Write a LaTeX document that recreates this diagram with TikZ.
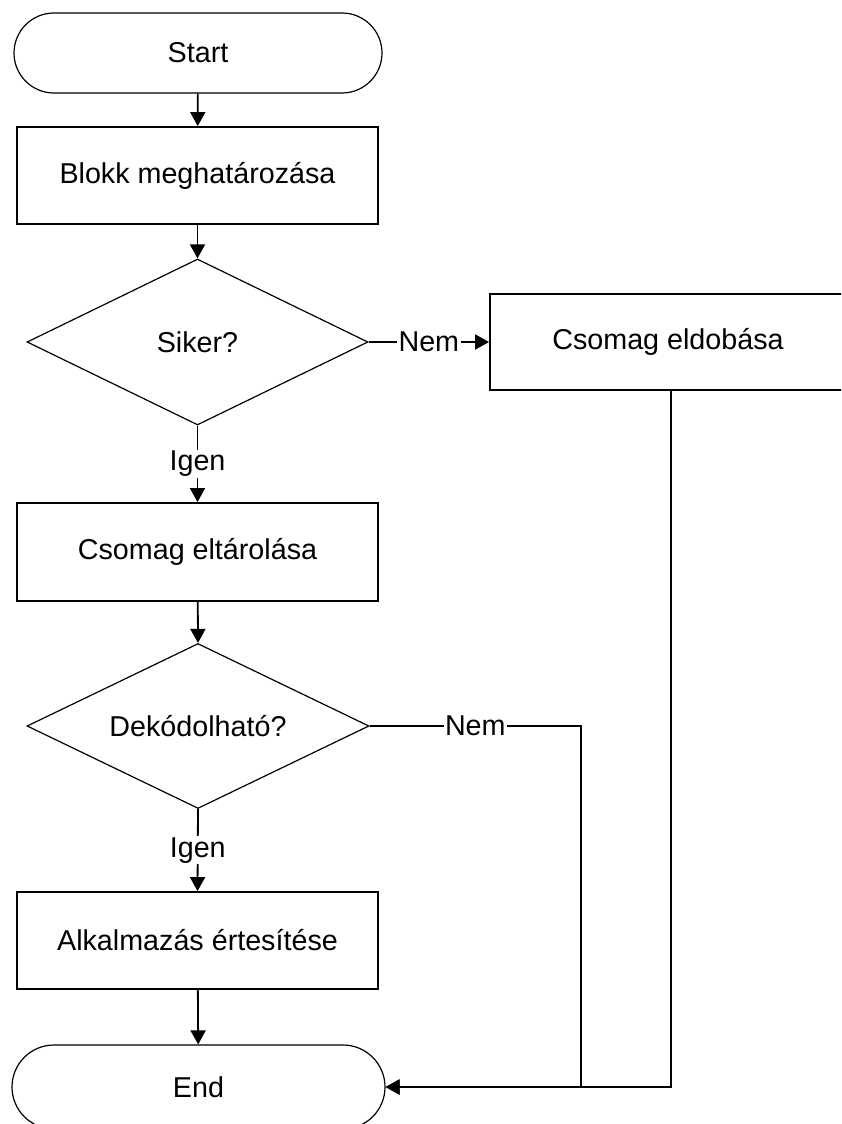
\documentclass[tikz,border=0pt]{standalone}
\usepackage{fontspec}
\setmainfont{Liberation Sans}
\usetikzlibrary{arrows.meta,shapes.geometric,shapes.misc}
\begin{document}
\begin{tikzpicture}[x=1pt,y=-1pt,
  every node/.style={font=\fontsize{28.7}{34}\selectfont, text=black},
  term/.style={draw, rounded rectangle, line width=1.2pt, inner sep=0pt},
  procbox/.style={draw, rectangle, line width=1.8pt, inner sep=0pt},
  decide/.style={draw, diamond, line width=1.2pt, inner sep=0pt},
  conn/.style={line width=1.8pt, -{Triangle[length=14pt,width=15pt]}},
  lbl/.style={fill=white, inner sep=1.5pt}
]
\useasboundingbox (0,0) rectangle (841,1124);
\clip (0,0) rectangle (841,1124);
\fill[white] (0,0) rectangle (841,1124);

\node[term, minimum width=368pt, minimum height=80pt] (start) at (198,53) {Start};
\node[procbox, minimum width=361pt, minimum height=97pt] (blokk) at (197.5,175.5) {Blokk meghatározása};
\node[decide, minimum width=341pt, minimum height=166pt] (siker) at (197.5,342) {};
\node (sikertxt) at (siker.center) {Siker?};
\node[procbox, minimum width=356pt, minimum height=96pt] (eldob) at (668,342) {Csomag eldobása};
\node[procbox, minimum width=361pt, minimum height=98pt] (tarol) at (197.5,552) {Csomag eltárolása};
\node[decide, minimum width=342pt, minimum height=165pt] (dekod) at (198,726) {};
\node (dekodtxt) at (dekod.center) {Dekódolható?};
\node[procbox, minimum width=361pt, minimum height=97pt] (alk) at (197.5,940.5) {Alkalmazás értesítése};
\node[term, minimum width=373pt, minimum height=84pt] (end) at (198.5,1087) {End};

\coordinate (j1) at (581,726);
\coordinate (j2) at (671,391);

\draw[conn] (start) -- (blokk);
\draw[conn] (blokk) -- (siker.north);
\draw[conn] (siker.east) -- node[lbl] {Nem} (eldob.west);
\draw[conn] (siker.south) -- node[lbl] {Igen} (tarol.north);
\draw[conn] (tarol) -- (dekod.north);
\draw[conn] (dekod.south) -- node[lbl] {Igen} (alk.north);
\draw[conn] (alk) -- (end);
\draw[conn] (dekod.east) -- node[lbl] {Nem} (j1) |- (end.east);
\draw[conn] (j2) |- (end.east);
\end{tikzpicture}
\end{document}
